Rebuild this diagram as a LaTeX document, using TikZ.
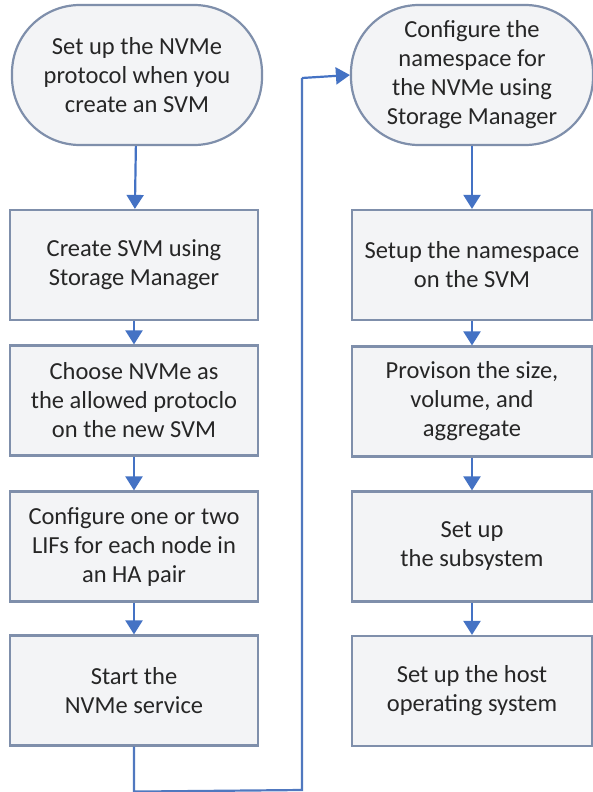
\documentclass[tikz,border=0pt]{standalone}
\usepackage{fontspec}
\setmainfont{Carlito}
\usetikzlibrary{arrows.meta,calc,positioning}
\definecolor{flowblue}{HTML}{4472C4}
\definecolor{boxedge}{HTML}{7F8FAB}
\definecolor{boxfill}{HTML}{F3F4F6}
\definecolor{boxtext}{HTML}{262626}
\tikzset{
    stepbox/.style={rectangle,draw=boxedge,fill=boxfill,line width=2.2pt,
      minimum width=248pt,minimum height=110pt,inner sep=0pt,
      align=center,text=boxtext,font=\fontsize{24.5}{29}\selectfont},
    startoval/.style={stepbox,rounded corners=68pt,minimum height=140pt,
      minimum width=250pt},
    flowarrow/.style={draw=flowblue,line width=2.2pt,
      -{Triangle[width=17pt,length=14pt]}},
    flowline/.style={draw=flowblue!80!boxedge,line width=2.2pt}
}
\begin{document}
\begin{tikzpicture}[x=1pt,y=-1pt]
  \useasboundingbox[fill=white] (0,0) rectangle (593,792);

  % left column
  \node[startoval] (S1) at (137,75)
    {Set up the NVMe\\protocol when you\\create an SVM};
  \node[stepbox] (L1) at (134,265)
    {Create SVM using\\Storage Manager};
  \node[stepbox] (L2) at (134,400.5)
    {Choose NVMe as\\the allowed protoclo\\on the new SVM};
  \node[stepbox] (L3) at (134,546.5)
    {Configure one or two\\LIFs for each node in\\an HA pair};
  \node[stepbox] (L4) at (134,690.5)
    {Start the\\NVMe service};

  % right column
  \node[startoval,minimum width=242pt] (S2) at (472,75)
    {Configure the\\namespace for\\the NVMe using\\Storage Manager};
  \node[stepbox,minimum width=240pt] (R1) at (472,265)
    {Setup the namespace\\on the SVM};
  \node[stepbox,minimum width=240pt] (R2) at (472,401.5)
    {Provison the size,\\volume, and\\aggregate};
  \node[stepbox,minimum width=240pt] (R3) at (472,546.5)
    {Set up\\the subsystem};
  \node[stepbox,minimum width=240pt] (R4) at (472,691)
    {Set up the host\\operating system};

  % arrows
  \draw[flowarrow] (S1) -- (L1);
  \draw[flowarrow] (L1) -- (L2);
  \draw[flowarrow] (L2) -- (L3);
  \draw[flowarrow] (L3) -- (L4);
  \draw[flowarrow] (S2) -- (R1);
  \draw[flowarrow] (R1) -- (R2);
  \draw[flowarrow] (R2) -- (R3);
  \draw[flowarrow] (R3) -- (R4);

  % link between columns
  \coordinate (J1) at ($(L4.south)+(0,45)$);
  \coordinate (J2) at (302,790);
  \coordinate (J3) at (302,78);
  \draw[flowline] (L4.south) -- (J1) -- (J2) -- (J3);
  \draw[flowarrow] (J3) -- (S2.west);
\end{tikzpicture}
\end{document}
